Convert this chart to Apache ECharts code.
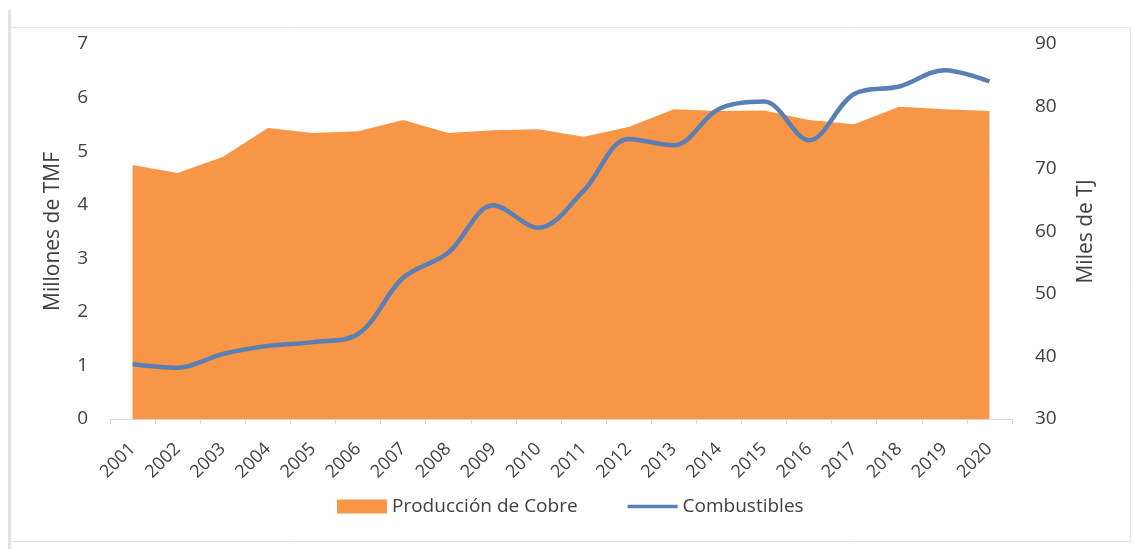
<!DOCTYPE html>
<html>
<head>
<meta charset="utf-8">
<script src="https://cdn.jsdelivr.net/npm/echarts@6/dist/echarts.min.js"></script>
<style>
  html, body { margin: 0; padding: 0; background: #ffffff; }
  #chart { width: 1134px; height: 549px; }
</style>
</head>
<body>
<div id="chart"></div>
<script>
// Años
const years = ['2001','2002','2003','2004','2005','2006','2007','2008','2009','2010',
               '2011','2012','2013','2014','2015','2016','2017','2018','2019','2020'];
// Producción de cobre (millones de TMF)
const cobre = [4.74, 4.59, 4.89, 5.43, 5.34, 5.37, 5.58, 5.34, 5.39, 5.41,
               5.27, 5.45, 5.78, 5.75, 5.76, 5.58, 5.50, 5.83, 5.78, 5.75];
// Consumo de combustibles (miles de TJ)
const combustibles = [38.8, 38.2, 40.4, 41.7, 42.3, 43.6, 52.6, 56.6, 64.2, 60.6,
                      66.5, 74.8, 73.8, 79.6, 80.8, 74.6, 82.0, 83.2, 85.8, 84.0];
// Marcas de los ejes
const leftTicks = { min: 0, max: 7, interval: 1 };
const rightTicks = { min: 30, max: 90, interval: 10 };

const textColor = '#404040';
const fontFamily = '"Open Sans", "Noto Sans", sans-serif';

const chart = echarts.init(document.getElementById('chart'));
chart.setOption({
  animation: false,
  textStyle: { fontFamily: fontFamily, color: textColor },
  graphic: [{
    type: 'rect',
    shape: { x: 9.5, y: 27.5, width: 1121, height: 514 },
    style: { fill: 'none', stroke: '#e2e2e2', lineWidth: 1 },
    silent: true
  }, {
    type: 'line',
    shape: { x1: 9.5, y1: 10, x2: 9.5, y2: 549 },
    style: { stroke: '#e2e2e2', lineWidth: 3 },
    silent: true
  }],
  grid: { left: 110, right: 122, top: 44, bottom: 130, containLabel: false },
  legend: {
    bottom: 28,
    left: 332,
    itemGap: 50,
    itemWidth: 50,
    itemHeight: 14,
    textStyle: { fontSize: 19, color: textColor, fontFamily: fontFamily },
    data: [
      { name: 'Producción de Cobre', icon: 'rect' },
      { name: 'Combustibles', icon: 'path://M0,0 L54,0 L54,4 L0,4 Z', itemStyle: { color: '#5A7FB5' } }
    ]
  },
  xAxis: {
    type: 'category',
    data: years,
    boundaryGap: true,
    axisLine: { lineStyle: { color: '#d9d9d9', width: 1 } },
    axisTick: { show: true, length: 5, alignWithLabel: false, lineStyle: { color: '#d9d9d9' } },
    axisLabel: { rotate: 45, fontSize: 18, color: textColor, margin: 27, interval: 0 }
  },
  yAxis: [{
    type: 'value',
    min: leftTicks.min, max: leftTicks.max, interval: leftTicks.interval,
    name: 'Millones de TMF',
    nameLocation: 'middle',
    nameGap: 46,
    nameTextStyle: { fontSize: 21, color: textColor },
    axisLine: { show: false },
    axisTick: { show: false },
    splitLine: { show: false },
    axisLabel: { fontSize: 19, color: textColor, margin: 22 }
  }, {
    type: 'value',
    min: rightTicks.min, max: rightTicks.max, interval: rightTicks.interval,
    name: 'Miles de TJ',
    nameLocation: 'middle',
    nameGap: 64,
    nameRotate: 90,
    nameTextStyle: { fontSize: 21, color: textColor },
    axisLine: { show: false },
    axisTick: { show: false },
    splitLine: { show: false },
    axisLabel: { fontSize: 19, color: textColor, margin: 23 }
  }],
  series: [{
    name: 'Producción de Cobre',
    type: 'line',
    yAxisIndex: 0,
    data: cobre,
    symbol: 'none',
    lineStyle: { width: 0 },
    itemStyle: { color: '#F79646' },
    areaStyle: { color: '#F79646', opacity: 1 }
  }, {
    name: 'Combustibles',
    type: 'line',
    yAxisIndex: 1,
    data: combustibles,
    symbol: 'none',
    smooth: 0.35,
    lineStyle: { width: 4.5, color: '#5A7FB5' },
    itemStyle: { color: '#5A7FB5' },
    z: 3
  }]
});
</script>
</body>
</html>
